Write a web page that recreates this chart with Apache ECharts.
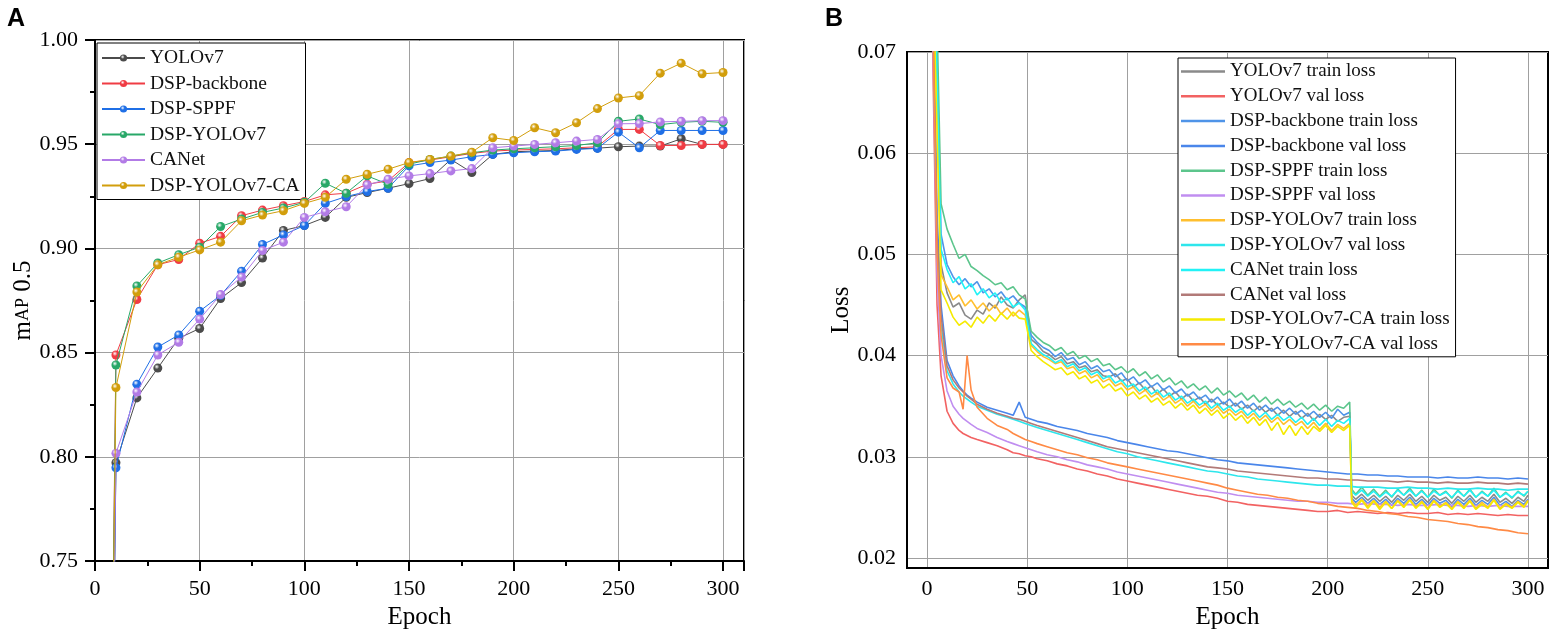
<!DOCTYPE html>
<html>
<head>
<meta charset="utf-8">
<script src="https://cdn.jsdelivr.net/npm/echarts@6.0.0/dist/echarts.min.js"></script>
<style>
html, body { margin: 0; padding: 0; background: #fff; }
#chart { width: 1552px; height: 635px; }
</style>
</head>
<body>
<div id="chart"></div>
<script>
var FONT = 'Liberation Serif, serif';

// A: mAP 0.5 per epoch (epoch 0 value is off the axis, only the line shows)
var mapEpochs = [0, 10, 20, 30, 40, 50, 60, 70, 80, 90, 100, 110, 120, 130, 140, 150,
  160, 170, 180, 190, 200, 210, 220, 230, 240, 250, 260, 270, 280, 290, 300];
var mapNames = ['YOLOv7', 'DSP-backbone', 'DSP-SPPF', 'DSP-YOLOv7', 'CANet', 'DSP-YOLOv7-CA'];
var mapYOLOv7 = [0, 0.7972, 0.8283, 0.8426, 0.8569, 0.8616, 0.8760, 0.8836, 0.8954, 0.9086, 0.9110,
  0.9149, 0.9245, 0.9268, 0.9289, 0.9311, 0.9335, 0.9427, 0.9364, 0.9451, 0.9464,
  0.9467, 0.9470, 0.9478, 0.9481, 0.9488, 0.9491, 0.9491, 0.9526, 0.9499, 0.9499];
var mapBackbone = [0, 0.8489, 0.8755, 0.8922, 0.8947, 0.9025, 0.9058, 0.9157, 0.9184, 0.9205, 0.9225,
  0.9257, 0.9265, 0.9308, 0.9324, 0.9412, 0.9424, 0.9440, 0.9456, 0.9467, 0.9472,
  0.9475, 0.9478, 0.9483, 0.9488, 0.9571, 0.9571, 0.9494, 0.9494, 0.9499, 0.9499];
var mapSPPF = [0, 0.7948, 0.8349, 0.8527, 0.8585, 0.8699, 0.8775, 0.8891, 0.9019, 0.9065, 0.9110,
  0.9216, 0.9249, 0.9273, 0.9289, 0.9396, 0.9412, 0.9424, 0.9440, 0.9451, 0.9459,
  0.9464, 0.9467, 0.9475, 0.9480, 0.9558, 0.9483, 0.9566, 0.9566, 0.9566, 0.9566];
var mapDSPYOLOv7 = [0, 0.8441, 0.8820, 0.8930, 0.8970, 0.9006, 0.9105, 0.9141, 0.9173, 0.9194, 0.9221,
  0.9313, 0.9265, 0.9348, 0.9308, 0.9404, 0.9427, 0.9443, 0.9459, 0.9472, 0.9478,
  0.9483, 0.9488, 0.9494, 0.9507, 0.9610, 0.9621, 0.9594, 0.9605, 0.9610, 0.9605];
var mapCANet = [0, 0.8017, 0.8311, 0.8489, 0.8550, 0.8661, 0.8779, 0.8863, 0.8990, 0.9030, 0.9149,
  0.9176, 0.9200, 0.9305, 0.9332, 0.9348, 0.9359, 0.9372, 0.9383, 0.9483, 0.9491,
  0.9499, 0.9507, 0.9515, 0.9523, 0.9598, 0.9599, 0.9607, 0.9610, 0.9613, 0.9613];
var mapDSPYOLOv7CA = [0, 0.8333, 0.8791, 0.8922, 0.8958, 0.8993, 0.9030, 0.9133, 0.9160, 0.9181, 0.9216,
  0.9245, 0.9332, 0.9356, 0.9380, 0.9412, 0.9427, 0.9443, 0.9462, 0.9531, 0.9518,
  0.9579, 0.9555, 0.9603, 0.9671, 0.9722, 0.9733, 0.9841, 0.9889, 0.9838, 0.9844];
var mapColors = ['#4b4b4b', '#f03c44', '#1f6fe6', '#28a868', '#b27be6', '#d29e0c'];

// B: loss curves (train losses read every 3 epochs, val losses every ~5)
var trainEpochs = [1, 4, 7, 10, 13, 16, 19, 22, 25, 28,
  31, 34, 37, 40, 43, 46, 49, 52, 55, 58,
  61, 64, 67, 70, 73, 76, 79, 82, 85, 88,
  91, 94, 97, 100, 103, 106, 109, 112, 115, 118,
  121, 124, 127, 130, 133, 136, 139, 142, 145, 148,
  151, 154, 157, 160, 163, 166, 169, 172, 175, 178,
  181, 184, 187, 190, 193, 196, 199, 202, 205, 208,
  211, 212, 214, 217, 220, 223, 226, 229, 232, 235,
  238, 241, 244, 247, 250, 253, 256, 259, 262, 265,
  268, 271, 274, 277, 280, 283, 286, 289, 292, 295,
  298, 300];
var valEpochs = [1, 3, 5, 7, 10, 13, 16, 18, 20, 22,
  25, 30, 35, 40, 43, 46, 49, 52, 55, 60,
  65, 70, 75, 80, 85, 90, 95, 100, 105, 110,
  115, 120, 125, 130, 135, 140, 145, 150, 155, 160,
  165, 170, 175, 180, 185, 190, 195, 200, 205, 210,
  215, 220, 225, 230, 235, 240, 245, 250, 255, 260,
  265, 270, 275, 280, 285, 290, 295, 300];

var yolov7Train = [0.118, 0.074, 0.0490, 0.0462, 0.0448, 0.0452, 0.0440, 0.0436, 0.0445, 0.0441,
  0.0452, 0.0447, 0.0458, 0.0450, 0.0447, 0.0455, 0.0460, 0.0416, 0.0411, 0.0404,
  0.0401, 0.0396, 0.0399, 0.0392, 0.0394, 0.0388, 0.0390, 0.0384, 0.0386, 0.0380,
  0.0379, 0.0382, 0.0375, 0.0377, 0.0369, 0.0373, 0.0366, 0.0370, 0.0362, 0.0367,
  0.0360, 0.0364, 0.0357, 0.0362, 0.0355, 0.0359, 0.0352, 0.0357, 0.0351, 0.0354,
  0.0349, 0.0353, 0.0347, 0.0351, 0.0345, 0.0350, 0.0344, 0.0348, 0.0341, 0.0346,
  0.0340, 0.0345, 0.0338, 0.0343, 0.0336, 0.0342, 0.0337, 0.0341, 0.0335, 0.0339,
  0.0340, 0.0262, 0.0258, 0.0263, 0.0257, 0.0262, 0.0256, 0.0261, 0.0255, 0.0262,
  0.0257, 0.0263, 0.0256, 0.0261, 0.0255, 0.0262, 0.0257, 0.0260, 0.0254, 0.0261,
  0.0256, 0.0262, 0.0255, 0.0260, 0.0256, 0.0263, 0.0255, 0.0259, 0.0254, 0.0260,
  0.0256, 0.0262];
var backboneTrain = [0.124, 0.078, 0.0520, 0.0490, 0.0478, 0.0470, 0.0476, 0.0468, 0.0473, 0.0462,
  0.0466, 0.0458, 0.0463, 0.0455, 0.0459, 0.0452, 0.0448, 0.0420, 0.0413, 0.0408,
  0.0405, 0.0399, 0.0403, 0.0396, 0.0398, 0.0391, 0.0394, 0.0387, 0.0390, 0.0384,
  0.0386, 0.0379, 0.0383, 0.0375, 0.0379, 0.0372, 0.0376, 0.0369, 0.0373, 0.0366,
  0.0370, 0.0363, 0.0367, 0.0360, 0.0364, 0.0357, 0.0361, 0.0354, 0.0359, 0.0352,
  0.0357, 0.0350, 0.0355, 0.0348, 0.0353, 0.0346, 0.0351, 0.0345, 0.0349, 0.0343,
  0.0348, 0.0342, 0.0346, 0.0340, 0.0345, 0.0339, 0.0344, 0.0338, 0.0347, 0.0341,
  0.0344, 0.0259, 0.0255, 0.0260, 0.0254, 0.0259, 0.0253, 0.0258, 0.0252, 0.0259,
  0.0254, 0.0260, 0.0253, 0.0258, 0.0252, 0.0259, 0.0254, 0.0257, 0.0251, 0.0258,
  0.0253, 0.0259, 0.0252, 0.0257, 0.0253, 0.0260, 0.0252, 0.0256, 0.0251, 0.0257,
  0.0253, 0.0258];
var sppfTrain = [0.130, 0.082, 0.0550, 0.0525, 0.0510, 0.0496, 0.0500, 0.0488, 0.0484, 0.0479,
  0.0475, 0.0470, 0.0472, 0.0465, 0.0468, 0.0460, 0.0456, 0.0424, 0.0418, 0.0413,
  0.0410, 0.0405, 0.0408, 0.0401, 0.0404, 0.0397, 0.0400, 0.0394, 0.0397, 0.0390,
  0.0392, 0.0386, 0.0389, 0.0383, 0.0387, 0.0380, 0.0384, 0.0377, 0.0381, 0.0374,
  0.0378, 0.0371, 0.0375, 0.0368, 0.0372, 0.0366, 0.0370, 0.0363, 0.0368, 0.0361,
  0.0365, 0.0359, 0.0363, 0.0356, 0.0361, 0.0354, 0.0359, 0.0352, 0.0357, 0.0351,
  0.0355, 0.0349, 0.0353, 0.0347, 0.0352, 0.0346, 0.0351, 0.0345, 0.0350, 0.0348,
  0.0354, 0.0268, 0.0263, 0.0270, 0.0262, 0.0268, 0.0261, 0.0267, 0.0260, 0.0268,
  0.0262, 0.0269, 0.0261, 0.0267, 0.0260, 0.0268, 0.0262, 0.0266, 0.0259, 0.0267,
  0.0261, 0.0268, 0.0260, 0.0266, 0.0261, 0.0269, 0.0260, 0.0265, 0.0259, 0.0266,
  0.0261, 0.0266];
var dspYolov7Train = [0.115, 0.072, 0.0480, 0.0468, 0.0455, 0.0460, 0.0449, 0.0455, 0.0446, 0.0452,
  0.0444, 0.0450, 0.0441, 0.0447, 0.0439, 0.0445, 0.0440, 0.0410, 0.0404, 0.0399,
  0.0396, 0.0392, 0.0394, 0.0387, 0.0389, 0.0382, 0.0385, 0.0378, 0.0381, 0.0374,
  0.0377, 0.0370, 0.0373, 0.0366, 0.0369, 0.0362, 0.0366, 0.0359, 0.0363, 0.0356,
  0.0360, 0.0353, 0.0357, 0.0350, 0.0355, 0.0348, 0.0352, 0.0345, 0.0350, 0.0343,
  0.0347, 0.0341, 0.0345, 0.0338, 0.0343, 0.0336, 0.0341, 0.0334, 0.0339, 0.0332,
  0.0337, 0.0331, 0.0335, 0.0328, 0.0334, 0.0327, 0.0333, 0.0326, 0.0332, 0.0328,
  0.0333, 0.0257, 0.0252, 0.0258, 0.0251, 0.0257, 0.0250, 0.0256, 0.0249, 0.0257,
  0.0251, 0.0258, 0.0250, 0.0256, 0.0249, 0.0257, 0.0251, 0.0255, 0.0249, 0.0256,
  0.0250, 0.0257, 0.0249, 0.0255, 0.0250, 0.0258, 0.0249, 0.0254, 0.0250, 0.0256,
  0.0251, 0.0257];
var canetTrain = [0.120, 0.076, 0.0505, 0.0485, 0.0472, 0.0478, 0.0466, 0.0471, 0.0460, 0.0466,
  0.0457, 0.0462, 0.0452, 0.0457, 0.0448, 0.0452, 0.0445, 0.0412, 0.0406, 0.0401,
  0.0398, 0.0393, 0.0396, 0.0389, 0.0392, 0.0385, 0.0388, 0.0381, 0.0384, 0.0377,
  0.0380, 0.0373, 0.0376, 0.0369, 0.0372, 0.0365, 0.0369, 0.0362, 0.0366, 0.0359,
  0.0363, 0.0356, 0.0360, 0.0353, 0.0357, 0.0351, 0.0355, 0.0348, 0.0353, 0.0346,
  0.0350, 0.0344, 0.0348, 0.0341, 0.0346, 0.0339, 0.0344, 0.0337, 0.0342, 0.0336,
  0.0340, 0.0334, 0.0339, 0.0332, 0.0338, 0.0331, 0.0337, 0.0330, 0.0336, 0.0333,
  0.0338, 0.0266, 0.0262, 0.0267, 0.0261, 0.0266, 0.0260, 0.0265, 0.0261, 0.0267,
  0.0262, 0.0267, 0.0261, 0.0266, 0.0260, 0.0266, 0.0262, 0.0265, 0.0260, 0.0266,
  0.0261, 0.0267, 0.0260, 0.0265, 0.0261, 0.0267, 0.0260, 0.0264, 0.0260, 0.0265,
  0.0262, 0.0266];
var caTrain = [0.112, 0.070, 0.0465, 0.0452, 0.0438, 0.0430, 0.0434, 0.0428, 0.0438, 0.0432,
  0.0440, 0.0434, 0.0442, 0.0436, 0.0443, 0.0437, 0.0436, 0.0405, 0.0399, 0.0394,
  0.0390, 0.0386, 0.0388, 0.0381, 0.0384, 0.0377, 0.0380, 0.0373, 0.0376, 0.0368,
  0.0372, 0.0365, 0.0368, 0.0360, 0.0364, 0.0357, 0.0361, 0.0354, 0.0358, 0.0351,
  0.0355, 0.0348, 0.0353, 0.0346, 0.0351, 0.0343, 0.0348, 0.0341, 0.0346, 0.0338,
  0.0343, 0.0336, 0.0341, 0.0333, 0.0339, 0.0331, 0.0337, 0.0326, 0.0334, 0.0322,
  0.0331, 0.0321, 0.0330, 0.0322, 0.0330, 0.0325, 0.0331, 0.0324, 0.0330, 0.0326,
  0.0331, 0.0255, 0.0250, 0.0257, 0.0249, 0.0256, 0.0248, 0.0255, 0.0249, 0.0256,
  0.0250, 0.0257, 0.0249, 0.0255, 0.0248, 0.0256, 0.0250, 0.0254, 0.0248, 0.0255,
  0.0249, 0.0256, 0.0248, 0.0253, 0.0249, 0.0257, 0.0248, 0.0253, 0.0249, 0.0255,
  0.0250, 0.0256];

var yolov7Val = [0.095, 0.068, 0.045, 0.038, 0.0345, 0.0333, 0.0326, 0.0323, 0.0321, 0.0319,
  0.0317, 0.0314, 0.0311, 0.0307, 0.0304, 0.0303, 0.0301, 0.0300, 0.0298, 0.0296,
  0.0293, 0.0291, 0.0288, 0.0286, 0.0283, 0.0281, 0.0278, 0.0276, 0.0274, 0.0272,
  0.0270, 0.0268, 0.0266, 0.0264, 0.0262, 0.0261, 0.0259, 0.0256, 0.0255, 0.0253,
  0.0252, 0.0251, 0.0250, 0.0249, 0.0248, 0.0247, 0.0246, 0.0246, 0.0247, 0.0245,
  0.0246, 0.0245, 0.0244, 0.0245, 0.0244, 0.0245, 0.0244, 0.0244, 0.0245, 0.0243,
  0.0244, 0.0243, 0.0244, 0.0243, 0.0242, 0.0243, 0.0242, 0.0242];
var backboneVal = [0.107, 0.077, 0.054, 0.045, 0.0395, 0.0380, 0.0370, 0.0365, 0.0361, 0.0358,
  0.0354, 0.0349, 0.0346, 0.0343, 0.0341, 0.0354, 0.0339, 0.0337, 0.0335, 0.0333,
  0.0330, 0.0328, 0.0326, 0.0323, 0.0321, 0.0319, 0.0316, 0.0314, 0.0312, 0.0310,
  0.0308, 0.0306, 0.0305, 0.0303, 0.0301, 0.0299, 0.0297, 0.0296, 0.0294, 0.0293,
  0.0292, 0.0291, 0.0290, 0.0289, 0.0288, 0.0287, 0.0286, 0.0285, 0.0284, 0.0283,
  0.0283, 0.0282, 0.0282, 0.0281, 0.0281, 0.0280, 0.0280, 0.0280, 0.0279, 0.0280,
  0.0279, 0.0279, 0.0280, 0.0279, 0.0279, 0.0278, 0.0279, 0.0278];
var sppfVal = [0.098, 0.070, 0.048, 0.040, 0.0365, 0.0350, 0.0342, 0.0338, 0.0335, 0.0332,
  0.0328, 0.0324, 0.0319, 0.0315, 0.0313, 0.0311, 0.0309, 0.0307, 0.0305, 0.0302,
  0.0300, 0.0297, 0.0295, 0.0292, 0.0290, 0.0288, 0.0285, 0.0283, 0.0281, 0.0279,
  0.0277, 0.0275, 0.0273, 0.0271, 0.0269, 0.0267, 0.0265, 0.0264, 0.0262, 0.0261,
  0.0260, 0.0259, 0.0258, 0.0257, 0.0256, 0.0256, 0.0255, 0.0255, 0.0254, 0.0254,
  0.0253, 0.0254, 0.0253, 0.0253, 0.0252, 0.0253, 0.0252, 0.0252, 0.0253, 0.0252,
  0.0252, 0.0251, 0.0252, 0.0251, 0.0252, 0.0251, 0.0251, 0.0251];
var dspYolov7Val = [0.102, 0.073, 0.051, 0.043, 0.0385, 0.0372, 0.0364, 0.0360, 0.0357, 0.0354,
  0.0350, 0.0346, 0.0342, 0.0339, 0.0337, 0.0335, 0.0333, 0.0331, 0.0329, 0.0326,
  0.0323, 0.0320, 0.0317, 0.0314, 0.0311, 0.0308, 0.0305, 0.0303, 0.0300, 0.0298,
  0.0296, 0.0294, 0.0292, 0.0290, 0.0288, 0.0286, 0.0285, 0.0283, 0.0281, 0.0280,
  0.0278, 0.0277, 0.0276, 0.0275, 0.0274, 0.0273, 0.0272, 0.0272, 0.0271, 0.0271,
  0.0270, 0.0270, 0.0270, 0.0269, 0.0269, 0.0270, 0.0269, 0.0269, 0.0268, 0.0269,
  0.0268, 0.0268, 0.0269, 0.0268, 0.0268, 0.0267, 0.0268, 0.0268];
var canetVal = [0.105, 0.075, 0.052, 0.044, 0.0390, 0.0376, 0.0368, 0.0364, 0.0360, 0.0357,
  0.0352, 0.0347, 0.0343, 0.0340, 0.0338, 0.0337, 0.0335, 0.0333, 0.0331, 0.0328,
  0.0325, 0.0322, 0.0319, 0.0316, 0.0313, 0.0310, 0.0308, 0.0306, 0.0304, 0.0302,
  0.0300, 0.0298, 0.0296, 0.0294, 0.0292, 0.0290, 0.0289, 0.0288, 0.0286, 0.0285,
  0.0284, 0.0283, 0.0282, 0.0281, 0.0280, 0.0279, 0.0279, 0.0278, 0.0278, 0.0277,
  0.0277, 0.0276, 0.0276, 0.0276, 0.0275, 0.0276, 0.0275, 0.0275, 0.0274, 0.0275,
  0.0274, 0.0274, 0.0275, 0.0274, 0.0274, 0.0273, 0.0274, 0.0273];
var caVal = [0.100, 0.072, 0.050, 0.042, 0.0378, 0.0368, 0.0364, 0.0347, 0.0400, 0.0366,
  0.0349, 0.0338, 0.0331, 0.0327, 0.0323, 0.0320, 0.0317, 0.0315, 0.0313, 0.0310,
  0.0307, 0.0304, 0.0302, 0.0299, 0.0297, 0.0294, 0.0292, 0.0290, 0.0288, 0.0286,
  0.0284, 0.0282, 0.0280, 0.0278, 0.0276, 0.0274, 0.0272, 0.0269, 0.0267, 0.0265,
  0.0263, 0.0262, 0.0260, 0.0259, 0.0257, 0.0256, 0.0254, 0.0253, 0.0251, 0.0250,
  0.0249, 0.0247, 0.0246, 0.0244, 0.0243, 0.0241, 0.0240, 0.0238, 0.0237, 0.0236,
  0.0234, 0.0233, 0.0231, 0.0230, 0.0228, 0.0227, 0.0225, 0.0224];

var lossNames = ['YOLOv7 train loss', 'YOLOv7 val loss', 'DSP-backbone train loss', 'DSP-backbone val loss',
  'DSP-SPPF train loss', 'DSP-SPPF val loss', 'DSP-YOLOv7 train loss', 'DSP-YOLOv7 val loss',
  'CANet train loss', 'CANet val loss', 'DSP-YOLOv7-CA train loss', 'DSP-YOLOv7-CA val loss'];
var lossValues = [yolov7Train, yolov7Val, backboneTrain, backboneVal, sppfTrain, sppfVal,
  dspYolov7Train, dspYolov7Val, canetTrain, canetVal, caTrain, caVal];
var lossColors = ['#8a8a8a', '#f26262', '#4f94e8', '#4a86ea', '#5cc58c', '#c08ef0',
  '#ffbf2e', '#2ee6ec', '#22f2f6', '#b27a78', '#f5ea00', '#ff8a45'];

var xTicksB = [0, 50, 100, 150, 200, 250, 300];
var yTicksB = [0.02, 0.03, 0.04, 0.05, 0.06, 0.07];

function pairs(xs, ys) {
  return xs.map(function (x, i) { return [x, ys[i]]; });
}
function ball(c) {
  return new echarts.graphic.RadialGradient(0.38, 0.35, 0.7, [
    { offset: 0, color: '#ffffff' },
    { offset: 0.4, color: c },
    { offset: 1, color: c }
  ]);
}

var tickFont = { fontFamily: FONT, fontSize: 22, color: '#000' };
var nameFont = { fontFamily: FONT, fontSize: 25, color: '#000' };

var mapValues = [mapYOLOv7, mapBackbone, mapSPPF, mapDSPYOLOv7, mapCANet, mapDSPYOLOv7CA];
var series = [];
mapNames.forEach(function (n, i) {
  series.push({
    name: n, type: 'line', xAxisIndex: 0, yAxisIndex: 0,
    data: pairs(mapEpochs, mapValues[i]),
    symbol: 'circle', symbolSize: 9, showSymbol: true,
    lineStyle: { color: mapColors[i], width: 1 },
    itemStyle: { color: ball(mapColors[i]), borderWidth: 0 },
    z: 3 + i
  });
});
lossNames.forEach(function (n, i) {
  var isTrain = n.indexOf('train') >= 0;
  series.push({
    name: n, type: 'line', xAxisIndex: 1, yAxisIndex: 1,
    data: pairs(isTrain ? trainEpochs : valEpochs, lossValues[i]),
    symbol: 'none', showSymbol: false,
    lineStyle: { color: lossColors[i], width: 1.6 },
    itemStyle: { color: lossColors[i] },
    z: 3 + i
  });
});

var chart = echarts.init(document.getElementById('chart'), null, { renderer: 'canvas' });
chart.setOption({
  animation: false,
  backgroundColor: '#fff',
  title: [
    { text: 'A', left: 2, top: 2, textStyle: { fontFamily: 'Liberation Sans, Arial, sans-serif', fontWeight: 'bold', fontSize: 25, color: '#000' } },
    { text: 'B', left: 820, top: 2, textStyle: { fontFamily: 'Liberation Sans, Arial, sans-serif', fontWeight: 'bold', fontSize: 25, color: '#000' } }
  ],
  grid: [
    { left: 95, top: 40, width: 649, height: 524, show: true, borderColor: '#000', borderWidth: 2, backgroundColor: 'transparent' },
    { left: 907, top: 52, width: 641, height: 517, show: true, borderColor: '#000', borderWidth: 2, backgroundColor: 'transparent' }
  ],
  legend: [
    {
      data: mapNames, left: 97, top: 43, orient: 'vertical',
      itemWidth: 43, itemHeight: 9, itemGap: 5.5,
      padding: [5, 6, 4, 4], borderColor: '#000', borderWidth: 1, backgroundColor: '#fff',
      textStyle: { fontFamily: FONT, fontSize: 19.5, color: '#111', lineHeight: 19 }
    },
    {
      data: lossNames, left: 1178, top: 58, orient: 'vertical',
      icon: 'rect', itemWidth: 44, itemHeight: 2.5, itemGap: 5.8,
      padding: [4, 6, 3, 3], borderColor: '#000', borderWidth: 1, backgroundColor: '#fff',
      textStyle: { fontFamily: FONT, fontSize: 19, color: '#111', lineHeight: 18.3 }
    }
  ],
  xAxis: [
    {
      gridIndex: 0, type: 'value', min: 0, max: 310, interval: 50,
      axisLine: { show: true, onZero: false, lineStyle: { color: '#000', width: 2 } },
      axisTick: { show: true, inside: false, length: 10, lineStyle: { color: '#000', width: 2 } },
      minorTick: { show: true, splitNumber: 2, length: 5, lineStyle: { color: '#000', width: 2 } },
      axisLabel: Object.assign({ margin: 17, showMaxLabel: false }, tickFont),
      splitLine: { show: true, lineStyle: { color: '#a0a0a0', width: 1 } },
      name: 'Epoch', nameLocation: 'middle', nameGap: 43, nameTextStyle: nameFont
    },
    {
      gridIndex: 1, type: 'value', min: -10, max: 310,
      axisLine: { show: true, onZero: false, lineStyle: { color: '#000', width: 2 } },
      axisTick: { show: false, customValues: xTicksB },
      axisLabel: Object.assign({ margin: 10, customValues: xTicksB }, tickFont),
      splitLine: { show: true, lineStyle: { color: '#a0a0a0', width: 1 } },
      name: 'Epoch', nameLocation: 'middle', nameGap: 34, nameTextStyle: nameFont
    }
  ],
  yAxis: [
    {
      gridIndex: 0, type: 'value', min: 0.75, max: 1.0, interval: 0.05,
      axisLine: { show: true, onZero: false, lineStyle: { color: '#000', width: 2 } },
      axisTick: { show: true, inside: false, length: 10, lineStyle: { color: '#000', width: 2 } },
      minorTick: { show: true, splitNumber: 2, length: 5, lineStyle: { color: '#000', width: 2 } },
      axisLabel: Object.assign({ margin: 17, formatter: function (v) { return v.toFixed(2); } }, tickFont),
      splitLine: { show: true, lineStyle: { color: '#a0a0a0', width: 1 } },
      name: '{m|m}{s|AP}{m| 0.5}', nameLocation: 'middle', nameGap: 46,
      nameTextStyle: { fontFamily: FONT, color: '#000', rich: { m: { fontFamily: FONT, fontSize: 25, color: '#000' }, s: { fontFamily: FONT, fontSize: 18, color: '#000' } } }
    },
    {
      gridIndex: 1, type: 'value', min: 0.019, max: 0.07,
      axisLine: { show: true, onZero: false, lineStyle: { color: '#000', width: 2 } },
      axisTick: { show: false, customValues: yTicksB },
      axisLabel: Object.assign({ margin: 11, customValues: yTicksB, formatter: function (v) { return v.toFixed(2); } }, tickFont),
      splitLine: { show: true, lineStyle: { color: '#a0a0a0', width: 1 } },
      name: 'Loss', nameLocation: 'middle', nameGap: 46, nameTextStyle: nameFont
    }
  ],
  series: series
});
</script>
</body>
</html>
